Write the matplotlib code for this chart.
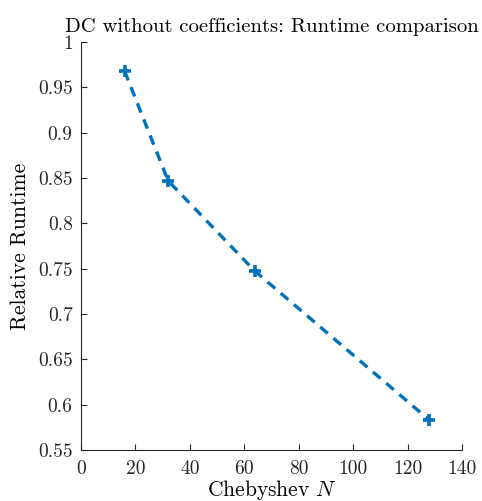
import matplotlib
matplotlib.use("Agg")
import matplotlib.pyplot as plt

plt.rcParams["font.family"] = ["cmr10"]
plt.rcParams["mathtext.fontset"] = "cm"
plt.rcParams["axes.formatter.use_mathtext"] = True

cheb_n = [16, 32, 64, 128]
rel_runtime = [0.968, 0.847, 0.747, 0.583]

x_ticks = [0, 20, 40, 60, 80, 100, 120, 140]
y_ticks = [0.55, 0.6, 0.65, 0.7, 0.75, 0.8, 0.85, 0.9, 0.95, 1.0]
y_labels = ["0.55", "0.6", "0.65", "0.7", "0.75", "0.8", "0.85", "0.9", "0.95", "1"]

fig = plt.figure(figsize=(4.82, 5.01), dpi=100)
ax = fig.add_axes([81 / 482, 51 / 501, 381 / 482, 408 / 501])

ax.plot(cheb_n, rel_runtime, linestyle=(0, (3, 2.2)), color="#0072BD",
        linewidth=2.4, marker="+", markersize=9, markeredgewidth=2.6)

ax.set_xlim(0, 140)
ax.set_ylim(0.55, 1.0)
ax.set_xticks(x_ticks)
ax.set_xticklabels([str(t) for t in x_ticks])
ax.set_yticks(y_ticks)
ax.set_yticklabels(y_labels)

for s in ["top", "right"]:
    ax.spines[s].set_visible(False)
for s in ["left", "bottom"]:
    ax.spines[s].set_color("#262626")
    ax.spines[s].set_linewidth(0.8)
ax.tick_params(direction="in", length=4, width=0.8, colors="#262626",
               labelsize=14, pad=6)
ax.tick_params(axis="x", pad=7)

ax.set_xlabel(r"Chebyshev $N$", fontsize=15.5, labelpad=0)
ax.set_ylabel("Relative Runtime", fontsize=15.5, labelpad=6)
ax.set_title("DC without coefficients: Runtime comparison", fontsize=14.9, pad=7)

fig.savefig("out.png", dpi=100)
